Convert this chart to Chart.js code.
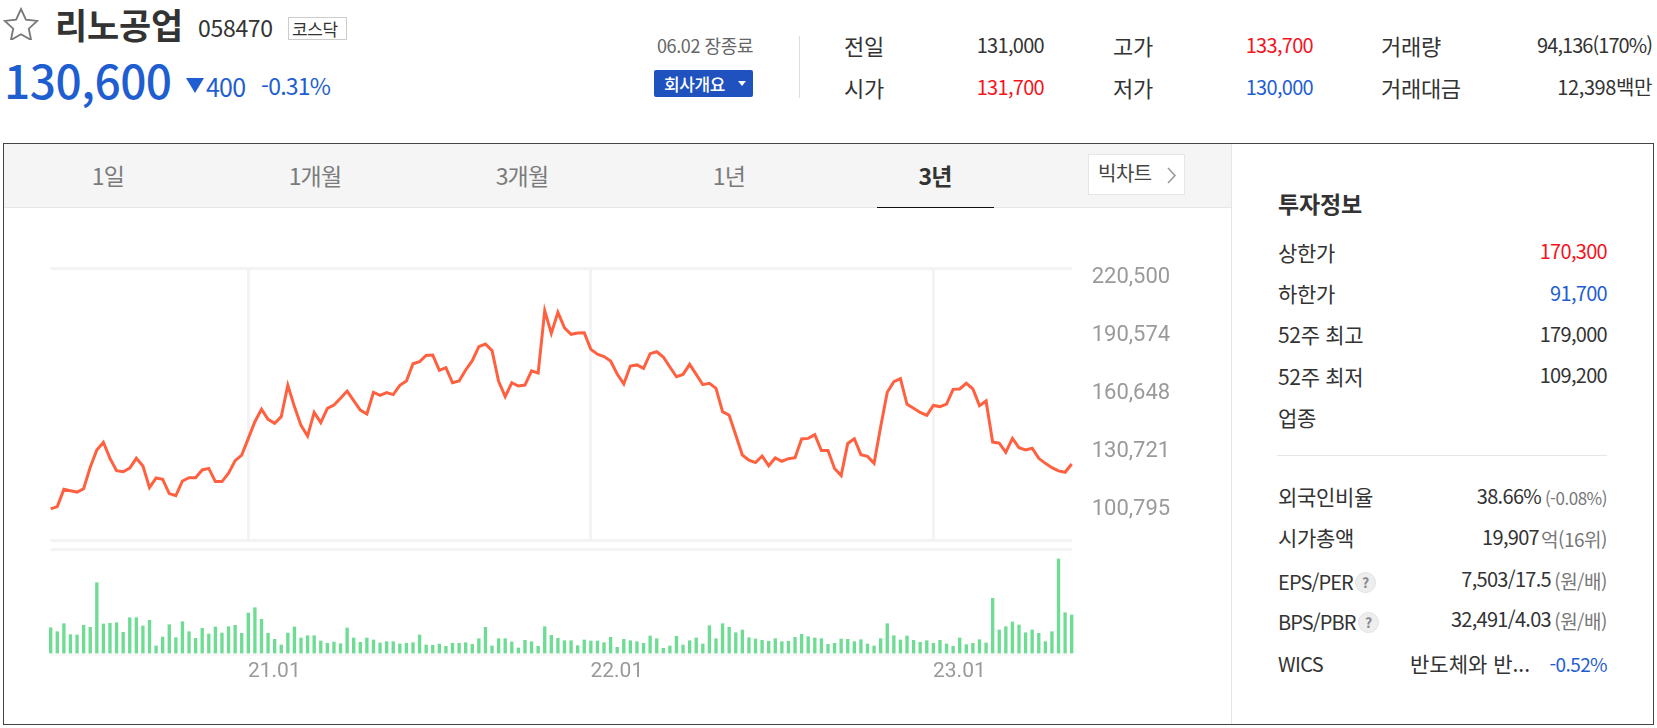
<!DOCTYPE html>
<html lang="ko">
<head>
<meta charset="utf-8">
<title>리노공업 3년 차트</title>
<script src="https://cdn.jsdelivr.net/npm/chart.js@4"></script>
<style>
  html, body { margin: 0; padding: 0; background: #fff; }
  body { width: 1657px; height: 728px; position: relative; overflow: hidden; font-family: "Noto Sans CJK KR", sans-serif; color: #333; }
  .t { position: absolute; white-space: nowrap; line-height: 1; }
  .r { text-align: right; }
  .box { position: absolute; box-sizing: border-box; }
  .tab { position: absolute; top: 164px; font-size: 23px; color: #7b7b7b; transform: translateX(-50%); line-height: 1; letter-spacing: -0.8px; }
  .lbl { font-size: 21px; color: #333; letter-spacing: -0.3px; }
  .top { font-size: 22px; }
  .val { font-size: 20px; color: #333; letter-spacing: -0.7px; }
  .sub { font-size: 17px; color: #777; letter-spacing: -0.5px; }
  .q { position: absolute; width: 21px; height: 21px; border-radius: 50%; background: #eee; border: 1px solid #e2e2e2; box-sizing: border-box; color: #888; font-size: 14px; line-height: 19px; text-align: center; font-weight: 700; }
  .blue { color: #1f5ed0; }
  .red { color: #f5141e; }
  canvas { position: absolute; left: 0; }
</style>
</head>
<body>
<svg class="box" style="left:3px;top:7px" width="36" height="33" viewBox="0 0 36 33"><path d="M18 2l4.9 10.6 11.3 1.3-8.4 7.8 2.3 11.3L18 27.300 7.900 33l2.300-11.300L1.800 13.900l11.300-1.300z" fill="#fff" stroke="#777" stroke-width="1.800"/></svg>
<div class="t" style="left:55px;top:6px;font-size:35px;font-weight:700;letter-spacing:-0.2px">리노공업</div>
<div class="t" style="left:198px;top:16px;font-size:23px;letter-spacing:-0.300px">058470</div>
<div class="box" style="left:288px;top:17px;width:59px;height:23px;border:1px solid #ccc"></div>
<div class="t" style="left:292px;top:20px;font-size:17px;letter-spacing:-0.400px">코스닥</div>
<div class="t blue" style="left:4px;top:56px;font-size:46px;font-weight:500;letter-spacing:-0.500px">130,600</div>
<svg class="box" style="left:185px;top:78px" width="20" height="15"><path d="M1 0h18L10 15z" fill="#1f5ed0"/></svg>
<div class="t blue" style="left:206px;top:74px;font-size:25px;letter-spacing:-0.8px">400</div>
<div class="t blue" style="left:261px;top:74px;font-size:23px;letter-spacing:-0.8px">-0.31%</div>
<div class="t" style="left:657px;top:36px;font-size:18px;color:#666;letter-spacing:-0.400px">06.02 장종료</div>
<div class="box" style="left:654px;top:70px;width:99px;height:27px;background:#1f52bf;border-radius:2px"></div>
<div class="t" style="left:664px;top:75px;font-size:17px;color:#fff;font-weight:500;letter-spacing:-0.400px">회사개요</div>
<svg class="box" style="left:738px;top:81px" width="8" height="5"><path d="M0 0h8L4 5z" fill="#fff"/></svg>
<div class="box" style="left:799px;top:36px;width:1px;height:62px;background:#ddd"></div>

<div class="t lbl top" style="left:844px;top:34px">전일</div>
<div class="t lbl top" style="left:844px;top:76px">시가</div>
<div class="t val r" style="right:613px;top:35px">131,000</div>
<div class="t val r red" style="right:613px;top:77px">131,700</div>
<div class="t lbl top" style="left:1113px;top:34px">고가</div>
<div class="t lbl top" style="left:1113px;top:76px">저가</div>
<div class="t val r red" style="right:344px;top:35px">133,700</div>
<div class="t val r blue" style="right:344px;top:77px">130,000</div>
<div class="t lbl top" style="left:1381px;top:34px">거래량</div>
<div class="t lbl top" style="left:1381px;top:76px">거래대금</div>
<div class="t val r" style="right:5px;top:35px;letter-spacing:-0.95px">94,136(170%)</div>
<div class="t val r" style="right:5px;top:77px;letter-spacing:-0.4px">12,398백만</div>

<div class="box" style="left:3px;top:143px;width:1651px;height:582px;border:1px solid #444"></div>
<div class="box" style="left:4px;top:144px;width:1227px;height:64px;background:#f5f5f5;border-bottom:1px solid #e6e6e6"></div>
<div class="box" style="left:1231px;top:144px;width:1px;height:580px;background:#e6e6e6"></div>
<div class="tab" style="left:108px">1일</div>
<div class="tab" style="left:315px">1개월</div>
<div class="tab" style="left:522px">3개월</div>
<div class="tab" style="left:729px">1년</div>
<div class="tab" style="left:935px;color:#333;font-weight:700">3년</div>
<div class="box" style="left:877px;top:207px;width:117px;height:1px;background:#111"></div>
<div class="box" style="left:1088px;top:154px;width:97px;height:41px;background:#fff;border:1px solid #e6e6e6"></div>
<div class="t" style="left:1098px;top:163px;font-size:20px;color:#444;letter-spacing:-0.500px">빅차트</div>
<svg class="box" style="left:1166px;top:167px" width="11" height="17"><path d="M2 1l7 7.500-7 7.500" fill="none" stroke="#999" stroke-width="1.600"/></svg>

<canvas id="price-chart" width="1230" height="285" style="top:260px"></canvas>
<canvas id="volume-chart" width="1230" height="150" style="top:540px"></canvas>

<div class="t" style="left:1278px;top:192px;font-size:23px;font-weight:700;letter-spacing:-0.200px">투자정보</div>
<div class="t lbl" style="left:1278px;top:242px">상한가</div>
<div class="t val r red" style="right:50px;top:241px">170,300</div>
<div class="t lbl" style="left:1278px;top:283px">하한가</div>
<div class="t val r blue" style="right:50px;top:283px">91,700</div>
<div class="t lbl" style="left:1278px;top:324px">52주 최고</div>
<div class="t val r" style="right:50px;top:324px">179,000</div>
<div class="t lbl" style="left:1278px;top:366px">52주 최저</div>
<div class="t val r" style="right:50px;top:365px">109,200</div>
<div class="t lbl" style="left:1278px;top:407px">업종</div>
<div class="box" style="left:1277px;top:455px;width:330px;height:1px;background:#e6e6e6"></div>

<div class="t lbl" style="left:1278px;top:486px">외국인비율</div>
<div class="t val r" style="right:116px;top:486px">38.66%</div>
<div class="t sub r" style="right:50px;top:489px">(-0.08%)</div>
<div class="t lbl" style="left:1278px;top:527px">시가총액</div>
<div class="t val r" style="right:118px;top:527px">19,907</div>
<div class="t sub r" style="right:50px;top:529px;font-size:19px">억(16위)</div>
<div class="t lbl" style="left:1278px;top:572px;font-size:20px;letter-spacing:-0.9px">EPS/PER</div>
<div class="q" style="left:1355px;top:572px">?</div>
<div class="t val r" style="right:106px;top:569px">7,503/17.5</div>
<div class="t sub r" style="right:50px;top:571px;font-size:19px">(원/배)</div>
<div class="t lbl" style="left:1278px;top:612px;font-size:20px;letter-spacing:-0.9px">BPS/PBR</div>
<div class="q" style="left:1358px;top:612px">?</div>
<div class="t val r" style="right:106px;top:609px">32,491/4.03</div>
<div class="t sub r" style="right:50px;top:611px;font-size:19px">(원/배)</div>
<div class="t lbl" style="left:1278px;top:654px;font-size:20px;letter-spacing:-0.6px">WICS</div>
<div class="t lbl" style="left:1410px;top:653px;letter-spacing:0">반도체와 반...</div>
<div class="t val r blue" style="right:50px;top:654px;font-size:19px;letter-spacing:-0.6px">-0.52%</div>

<script>
// ---- chart data ---- //
const priceValues = [
  99800, 101000, 109900, 109200, 108500, 110200, 121300, 130200, 134200, 125900,
  119500, 119000, 120900, 125900, 121900, 110800, 115800, 115100, 107700, 106600,
  114200, 115900, 115900, 119900, 120700, 113900, 113900, 118200, 124700, 127600,
  136200, 144800, 151200, 146000, 144000, 147400, 163600, 152600, 142900, 137400,
  149600, 144300, 151700, 153400, 156900, 160600, 155700, 150800, 148800, 160000,
  158400, 159800, 158800, 163600, 165800, 174700, 175800, 179000, 179200, 171300,
  172700, 164900, 165800, 171500, 176300, 183500, 184900, 181500, 165600, 157700,
  164900, 163200, 163700, 171000, 169900, 202100, 190400, 201200, 193200, 189900,
  190600, 190700, 182100, 179600, 178400, 176100, 169400, 164300, 173500, 174100,
  172300, 179900, 180900, 178200, 173000, 168000, 169200, 174400, 169200, 163900,
  164600, 162000, 150000, 148100, 137900, 127600, 125000, 123700, 127100, 122100,
  126100, 124400, 125700, 126200, 135900, 136200, 138100, 129900, 129900, 120700,
  117000, 133600, 136000, 127800, 126900, 123300, 142200, 160000, 165500, 167000,
  153800, 151700, 149600, 148100, 153200, 152600, 153900, 161500, 161700, 164600,
  161700, 153100, 155500, 134300, 133800, 129000, 136200, 131400, 130200, 131100,
  125900, 123300, 121100, 119400, 118700, 123000
];
const volumeValues = [
  26.8, 22.8, 30.8, 19.8, 19.5, 29.2, 27.2, 71.8, 30.5, 31.2,
  31.8, 22.2, 36.8, 36.8, 28.5, 34.2, 8.5, 17.5, 29.8, 16.8,
  32.8, 22.8, 16.2, 26.2, 20.5, 27.5, 21.5, 27.8, 29.2, 21.2,
  41.5, 46.8, 35.2, 21.2, 15.2, 9.5, 21.5, 27.5, 16.5, 18.8,
  18.8, 13.5, 11.2, 12.5, 10.8, 26.5, 16.5, 12.2, 16.5, 14.5,
  11.5, 12.8, 12.8, 10.5, 11.2, 11.8, 19.5, 9.5, 9.2, 10.5,
  8.2, 11.2, 11.2, 11.8, 10.2, 15.8, 27.2, 8.5, 15.8, 15.8,
  12.5, 6.5, 14.2, 12.8, 8.2, 27.8, 19.2, 16.2, 13.8, 13.8,
  8.8, 14.5, 13.5, 13.5, 11.8, 17.2, 7.2, 15.2, 13.8, 12.8,
  11.2, 18.5, 15.8, 6.2, 8.5, 18.2, 9.5, 13.8, 16.5, 10.5,
  28.8, 15.8, 30.8, 27.2, 21.8, 24.5, 16.8, 15.5, 14.2, 13.2,
  15.8, 12.8, 13.2, 17.2, 20.2, 17.8, 16.5, 15.8, 10.2, 11.2,
  15.5, 15.2, 12.8, 14.8, 10.5, 8.5, 15.8, 30.8, 18.8, 14.5,
  18.5, 14.2, 12.2, 13.8, 11.2, 14.2, 10.5, 8.2, 16.5, 9.8,
  11.2, 14.8, 11.5, 56.2, 24.5, 27.8, 32.5, 29.5, 21.8, 24.5,
  21.2, 12.8, 22.8, 95.5, 41.8, 39.5
];
const priceTicks = [220500, 190574, 160648, 130721, 100795];
const priceMin = 83760;
const priceMax = 223957;
const volumeMax = 105;
const yearTickIndex = [30, 82, 134];
const yearTickLabels = ["21.01", "22.01", "23.01"];
const categories = priceValues.map((_, i) => i);

const gridColor = "#f3f3f3";
const plotLeft = 50.7;
const axisWidth = 158.3;

// the tick labels must not push the plot area in
function fixYAxis(axis) {
    axis.width = axisWidth;
    axis.paddingTop = 0;
    axis.paddingBottom = 0;
}

// ---- Price line ---- //
new Chart(document.getElementById("price-chart"), {
    type: "line",
    data: {
        labels: categories,
        datasets: [{
            data: priceValues,
            borderColor: "#ff6140",
            borderWidth: 3,
            pointRadius: 0,
            tension: 0,
            clip: false
        }]
    },
    options: {
        responsive: false,
        animation: false,
        layout: { padding: { left: plotLeft, top: 8.3, bottom: 5 } },
        plugins: { legend: { display: false }, tooltip: { enabled: false } },
        scales: {
            x: {
                afterFit: axis => { axis.height = 0; axis.paddingLeft = 0; axis.paddingRight = 0; },
                border: { display: false },
                grid: {
                    drawTicks: false,
                    lineWidth: 3,
                    color: c => yearTickIndex.includes(c.index) ? gridColor : "transparent"
                },
                ticks: { display: false, autoSkip: false }
            },
            y: {
                position: "right",
                min: priceMin,
                max: priceMax,
                afterBuildTicks: axis => {
                    axis.ticks = [priceMin, ...priceTicks.slice().reverse(), priceMax].map(value => ({ value }));
                },
                afterFit: fixYAxis,
                border: { display: false },
                grid: {
                    drawTicks: false,
                    lineWidth: 3,
                    color: c => priceTicks.includes(c.tick.value) ? "transparent" : gridColor
                },
                ticks: {
                    autoSkip: false,
                    padding: 20,
                    labelOffset: 3,
                    color: "#9a9a9a",
                    font: { family: "Roboto", size: 22 },
                    callback: v => priceTicks.includes(v) ? v.toLocaleString("en-US") : ""
                }
            }
        }
    }
});

// ---- Volume bars ---- //
new Chart(document.getElementById("volume-chart"), {
    type: "bar",
    data: {
        labels: categories,
        datasets: [{
            data: volumeValues,
            backgroundColor: "#6fdc94",
            barThickness: 2.7,
            clip: false
        }]
    },
    options: {
        responsive: false,
        animation: false,
        layout: { padding: { left: plotLeft, top: 9.5 } },
        plugins: { legend: { display: false }, tooltip: { enabled: false } },
        scales: {
            x: {
                offset: false,
                afterFit: axis => { axis.height = 35.5; axis.paddingLeft = 0; axis.paddingRight = 0; },
                border: { display: false },
                grid: { display: false, drawTicks: false },
                ticks: {
                    autoSkip: false,
                    maxRotation: 0,
                    padding: 5,
                    labelOffset: 26,
                    color: "#9a9a9a",
                    font: { family: "Roboto", size: 21 },
                    callback: (v, i) => {
                        const k = yearTickIndex.indexOf(i);
                        return k >= 0 ? yearTickLabels[k] : "";
                    }
                }
            },
            y: {
                position: "right",
                min: 0,
                max: volumeMax,
                afterBuildTicks: axis => {
                    axis.ticks = [{ value: 0 }, { value: volumeMax }];
                },
                afterFit: fixYAxis,
                border: { display: false },
                grid: {
                    drawTicks: false,
                    lineWidth: 3,
                    color: c => c.tick.value === 0 ? "#f8f8f8" : gridColor
                },
                ticks: { display: false }
            }
        }
    }
});
</script>
</body>
</html>
